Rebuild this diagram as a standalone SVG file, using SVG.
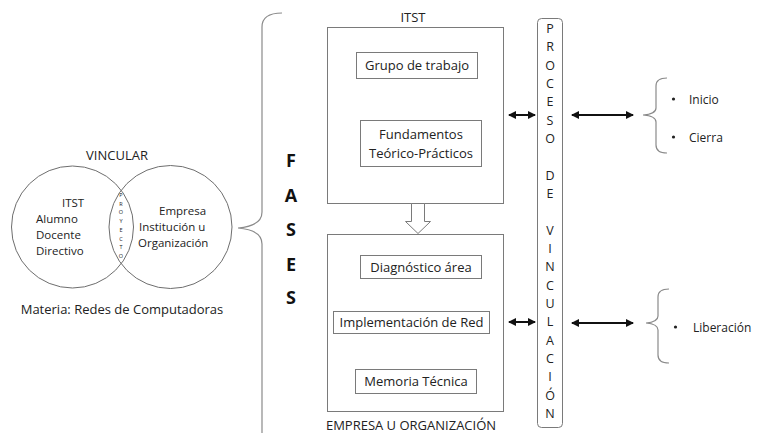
<svg xmlns="http://www.w3.org/2000/svg" width="757" height="433" viewBox="0 0 757 433">
  <defs>
    <marker id="head" viewBox="0 0 8 8" refX="7" refY="4" markerWidth="4" markerHeight="4" orient="auto-start-reverse" markerUnits="strokeWidth">
      <path d="M0,0 L8,4 L0,8 Z" fill="#111"/>
    </marker>
  </defs>
  <style>
    text { font-family: "Open Sans", "Liberation Sans", Arial, sans-serif; fill: #222; }
    .box { fill: #fff; stroke: #7a7a7a; stroke-width: 1; }
    .ring { fill: none; stroke: #6e6e6e; stroke-width: 1; }
    .brace { fill: none; stroke: #8a8a8a; stroke-width: 1.2; }
    .lbl { font-size: 13px; text-anchor: middle; }
    .link { stroke: #111; stroke-width: 2; fill: none; marker-start: url(#head); marker-end: url(#head); }
    .fases { font-size: 18px; font-weight: bold; text-anchor: middle; fill: #111; }
  </style>

  <rect width="757" height="433" fill="#fff"/>

  <!-- Venn: ITST / empresa -->
  <g id="venn">
    <text x="117" y="160" font-size="13" text-anchor="middle">VINCULAR</text>
    <circle class="ring" cx="72.5" cy="227" r="61"/>
    <circle class="ring" cx="170.5" cy="227" r="61.5"/>
    <g font-size="11.5">
      <text x="62" y="207">ITST</text>
      <text x="36" y="223">Alumno</text>
      <text x="36" y="239">Docente</text>
      <text x="36" y="255">Directivo</text>
      <text x="159" y="215">Empresa</text>
      <text x="139" y="231">Institución u</text>
      <text x="138" y="247">Organización</text>
    </g>
    <text x="121" y="197" font-size="5.5" text-anchor="middle">
      <tspan x="121">P</tspan><tspan x="121" dy="8.7">R</tspan><tspan x="121" dy="8.7">O</tspan><tspan x="121" dy="8.7">Y</tspan><tspan x="121" dy="8.7">E</tspan><tspan x="121" dy="8.7">C</tspan><tspan x="121" dy="8.7">T</tspan><tspan x="121" dy="8.7">O</tspan>
    </text>
    <text x="122" y="314" font-size="13" text-anchor="middle">Materia: Redes de Computadoras</text>
  </g>

  <!-- big brace and phases title -->
  <g id="fases">
    <path class="brace" d="M282,13 Q262,13 262,27 L262,212 Q262,226 238,228 Q262,230 262,244 L262,440"/>
    <text class="fases" x="291" y="167">F</text>
    <text class="fases" x="291" y="202">A</text>
    <text class="fases" x="291" y="236">S</text>
    <text class="fases" x="291" y="271">E</text>
    <text class="fases" x="291" y="304">S</text>
  </g>

  <!-- ITST phase -->
  <g id="itst">
    <text class="lbl" x="413" y="22">ITST</text>
    <rect class="box" x="327.5" y="27.5" width="176" height="176"/>
  </g>
  <g id="grupo">
    <rect class="box" x="356.5" y="52.5" width="121" height="26"/>
    <text class="lbl" x="417" y="70">Grupo de trabajo</text>
  </g>
  <g id="fundamentos">
    <rect class="box" x="360.5" y="120.5" width="121" height="46"/>
    <text class="lbl" x="421" y="139">Fundamentos</text>
    <text class="lbl" x="421" y="158">Teórico-Prácticos</text>
  </g>

  <!-- hollow arrow between phases -->
  <g id="flecha">
    <path d="M411.5,203.5 L424.5,203.5 L424.5,221.5 L430.5,221.5 L418,233.5 L405.5,221.5 L411.5,221.5 Z" fill="#fff" stroke="#7a7a7a" stroke-width="1"/>
  </g>

  <!-- Empresa phase -->
  <g id="empresa">
    <rect class="box" x="327.5" y="234.5" width="176" height="177"/>
    <text class="lbl" x="411" y="430" font-size="12.5">EMPRESA U ORGANIZACIÓN</text>
  </g>
  <g id="diagnostico">
    <rect class="box" x="360.5" y="255.5" width="121" height="23"/>
    <text class="lbl" x="421" y="272">Diagnóstico área</text>
  </g>
  <g id="implementacion">
    <rect class="box" x="333.5" y="311.5" width="156" height="22"/>
    <text class="lbl" x="411.5" y="327">Implementación de Red</text>
  </g>
  <g id="memoria">
    <rect class="box" x="355.5" y="369.5" width="121" height="24"/>
    <text class="lbl" x="416" y="386">Memoria Técnica</text>
  </g>

  <!-- vertical process bar -->
  <g id="proceso">
    <rect x="537.5" y="18.5" width="25" height="409" rx="4" fill="#fff" stroke="#7a7a7a" stroke-width="1"/>
    <text x="550" y="33" font-size="12.5" text-anchor="middle">
      <tspan x="550">P</tspan><tspan x="550" dy="18.33">R</tspan><tspan x="550" dy="18.33">O</tspan><tspan x="550" dy="18.33">C</tspan><tspan x="550" dy="18.33">E</tspan><tspan x="550" dy="18.33">S</tspan><tspan x="550" dy="18.33">O</tspan><tspan x="550" dy="36.66">D</tspan><tspan x="550" dy="18.33">E</tspan><tspan x="550" dy="36.66">V</tspan><tspan x="550" dy="18.33">I</tspan><tspan x="550" dy="18.33">N</tspan><tspan x="550" dy="18.33">C</tspan><tspan x="550" dy="18.33">U</tspan><tspan x="550" dy="18.33">L</tspan><tspan x="550" dy="18.33">A</tspan><tspan x="550" dy="18.33">C</tspan><tspan x="550" dy="18.33">I</tspan><tspan x="550" dy="18.33">Ó</tspan><tspan x="550" dy="18.33">N</tspan>
    </text>
  </g>

  <!-- outcomes -->
  <g id="inicio-cierra">
    <path class="brace" d="M667,78 Q656,78 656,86 L656,108 Q656,114 643,115 Q656,116 656,122 L656,145 Q656,153 667,153"/>
    <circle cx="673.5" cy="99" r="1.6" fill="#222"/>
    <text x="689" y="104" font-size="12">Inicio</text>
    <circle cx="673.5" cy="137" r="1.6" fill="#222"/>
    <text x="689" y="142" font-size="12">Cierra</text>
  </g>
  <g id="liberacion">
    <path class="brace" d="M669,289 Q658,289 658,297 L658,316 Q658,322 646,323 Q658,324 658,330 L658,355 Q658,363 669,363"/>
    <circle cx="675.5" cy="327" r="1.6" fill="#222"/>
    <text x="693" y="332" font-size="12">Liberación</text>
  </g>

  <!-- connectors -->
  <g id="conectores">
    <line class="link" x1="509" y1="115" x2="535" y2="115"/>
    <line class="link" x1="509" y1="322" x2="535" y2="322"/>
    <line class="link" x1="572" y1="115" x2="633" y2="115"/>
    <line class="link" x1="572" y1="323" x2="633" y2="323"/>
  </g>
</svg>
